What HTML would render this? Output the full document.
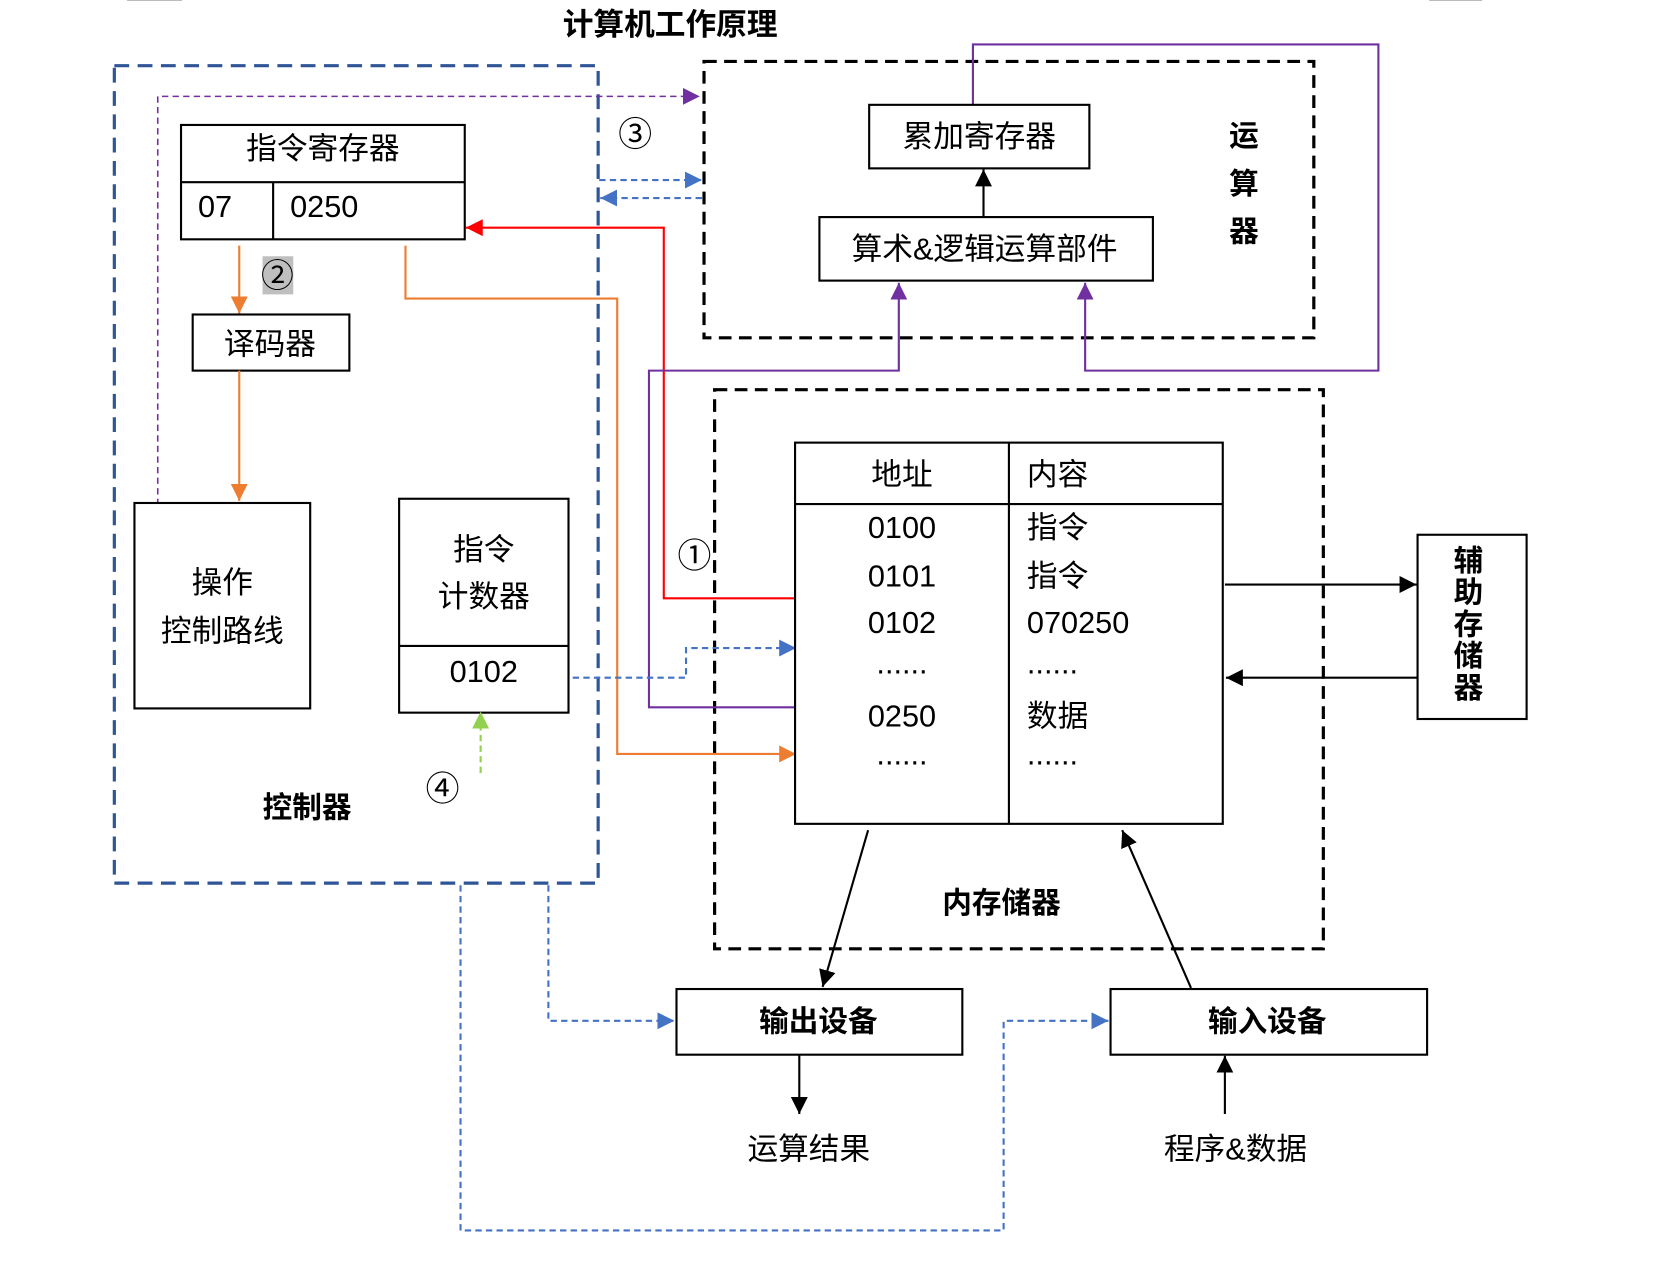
<!DOCTYPE html>
<html><head><meta charset="utf-8"><style>
html,body{margin:0;padding:0;background:#fff;}
svg{display:block;}
text{font-family:"Liberation Sans","Noto Sans CJK SC",sans-serif;fill:#000;}
.b{font-weight:bold;}
</style></head><body>
<svg width="1660" height="1276" viewBox="0 0 1568 1205" preserveAspectRatio="none" xmlns="http://www.w3.org/2000/svg">
<defs>
<marker id="aO" markerWidth="20" markerHeight="20" refX="16" refY="8" orient="auto" markerUnits="userSpaceOnUse"><path d="M0,0 L16,8 L0,16z" fill="#ED7D31"/></marker>
<marker id="aR" markerWidth="20" markerHeight="20" refX="16" refY="8" orient="auto" markerUnits="userSpaceOnUse"><path d="M0,0 L16,8 L0,16z" fill="#FF0000"/></marker>
<marker id="aP" markerWidth="20" markerHeight="20" refX="16" refY="8" orient="auto" markerUnits="userSpaceOnUse"><path d="M0,0 L16,8 L0,16z" fill="#7030A0"/></marker>
<marker id="aB" markerWidth="20" markerHeight="20" refX="16" refY="8" orient="auto" markerUnits="userSpaceOnUse"><path d="M0,0 L16,8 L0,16z" fill="#4472C4"/></marker>
<marker id="aG" markerWidth="20" markerHeight="20" refX="16" refY="8" orient="auto" markerUnits="userSpaceOnUse"><path d="M0,0 L16,8 L0,16z" fill="#92D050"/></marker>
<marker id="aBk" markerWidth="20" markerHeight="20" refX="16" refY="8" orient="auto" markerUnits="userSpaceOnUse"><path d="M0,0 L16,8 L0,16z" fill="#000"/></marker>
</defs>
<line x1="120" y1="0.5" x2="172" y2="0.5" stroke="#bbb" stroke-width="1"/>
<line x1="1350" y1="0.5" x2="1400" y2="0.5" stroke="#bbb" stroke-width="1"/>
<text x="633" y="33" font-size="29" text-anchor="middle" class="b">计算机工作原理</text>

<rect x="108" y="62" width="457" height="772" fill="none" stroke="#2F5597" stroke-width="3" stroke-dasharray="14 8"/>
<rect x="665" y="58" width="576" height="261" fill="none" stroke="#000" stroke-width="3" stroke-dasharray="12 7"/>
<rect x="675" y="368" width="575" height="528" fill="none" stroke="#000" stroke-width="3" stroke-dasharray="12 7"/>

<polyline points="149,477 149,91 661,91" fill="none" stroke="#7030A0" stroke-width="1.5" stroke-dasharray="6 4" marker-end="url(#aP)"/>
<line x1="566" y1="170" x2="663" y2="170" stroke="#4472C4" stroke-width="2" stroke-dasharray="6 4" marker-end="url(#aB)"/>
<line x1="663" y1="187" x2="567" y2="187" stroke="#4472C4" stroke-width="2" stroke-dasharray="6 4" marker-end="url(#aB)"/>
<text x="600" y="138" font-size="32" text-anchor="middle">③</text>

<rect x="171" y="118" width="268" height="108" fill="#fff" stroke="#000" stroke-width="2"/>
<line x1="171" y1="172" x2="439" y2="172" stroke="#000" stroke-width="2"/>
<line x1="258" y1="172" x2="258" y2="226" stroke="#000" stroke-width="2"/>
<text x="305" y="150" font-size="29" text-anchor="middle">指令寄存器</text>
<text x="187" y="205" font-size="29">07</text>
<text x="274" y="205" font-size="29">0250</text>

<line x1="226" y1="232" x2="226" y2="296" stroke="#ED7D31" stroke-width="2" marker-end="url(#aO)"/>
<rect x="248" y="242" width="29" height="36" fill="#bfbfbf"/>
<text x="262" y="271" font-size="31" text-anchor="middle">②</text>
<rect x="182" y="297" width="148" height="53" fill="#fff" stroke="#000" stroke-width="2"/>
<text x="255" y="335" font-size="29" text-anchor="middle">译码器</text>
<line x1="226" y1="350" x2="226" y2="473" stroke="#ED7D31" stroke-width="2" marker-end="url(#aO)"/>

<rect x="127" y="475" width="166" height="194" fill="#fff" stroke="#000" stroke-width="2"/>
<text x="210" y="560" font-size="29" text-anchor="middle">操作</text>
<text x="210" y="606" font-size="29" text-anchor="middle">控制路线</text>

<rect x="377" y="471" width="160" height="202" fill="#fff" stroke="#000" stroke-width="2"/>
<line x1="377" y1="610" x2="537" y2="610" stroke="#000" stroke-width="2"/>
<text x="457" y="529" font-size="29" text-anchor="middle">指令</text>
<text x="457" y="573" font-size="29" text-anchor="middle">计数器</text>
<text x="457" y="644" font-size="29" text-anchor="middle">0102</text>

<line x1="454" y1="730" x2="454" y2="672" stroke="#92D050" stroke-width="2" stroke-dasharray="6 4" marker-end="url(#aG)"/>
<text x="418" y="756" font-size="32" text-anchor="middle">④</text>
<text x="290" y="772" font-size="28" text-anchor="middle" class="b">控制器</text>

<polyline points="383,232 383,282 583,282 583,712 752,712" fill="none" stroke="#ED7D31" stroke-width="2" marker-end="url(#aO)"/>
<polyline points="752,565 627,565 627,215 440,215" fill="none" stroke="#FF0000" stroke-width="2" marker-end="url(#aR)"/>
<text x="656" y="536" font-size="32" text-anchor="middle">①</text>
<polyline points="752,668 613,668 613,350 849,350 849,267" fill="none" stroke="#7030A0" stroke-width="2" marker-end="url(#aP)"/>
<polyline points="919,99 919,42 1302,42 1302,350 1025,350 1025,267" fill="none" stroke="#7030A0" stroke-width="2" marker-end="url(#aP)"/>
<polyline points="541,640 648,640 648,612 752,612" fill="none" stroke="#4472C4" stroke-width="2" stroke-dasharray="6 4" marker-end="url(#aB)"/>

<rect x="821" y="99" width="208" height="60" fill="#fff" stroke="#000" stroke-width="2"/>
<text x="925" y="139" font-size="29" text-anchor="middle">累加寄存器</text>
<rect x="774" y="205" width="315" height="60" fill="#fff" stroke="#000" stroke-width="2"/>
<text x="930" y="245" font-size="29" text-anchor="middle">算术&amp;逻辑运算部件</text>
<line x1="929" y1="205" x2="929" y2="160" stroke="#000" stroke-width="2" marker-end="url(#aBk)"/>
<text x="1175" y="138" font-size="28" text-anchor="middle" class="b">运</text>
<text x="1175" y="183" font-size="28" text-anchor="middle" class="b">算</text>
<text x="1175" y="228" font-size="28" text-anchor="middle" class="b">器</text>

<rect x="751" y="418" width="404" height="360" fill="#fff" stroke="#000" stroke-width="2"/>
<line x1="953" y1="418" x2="953" y2="778" stroke="#000" stroke-width="2"/>
<line x1="751" y1="476" x2="1155" y2="476" stroke="#000" stroke-width="2"/>
<g font-size="29">
<text x="852" y="458" text-anchor="middle">地址</text>
<text x="970" y="458">内容</text>
<text x="852" y="508" text-anchor="middle">0100</text>
<text x="852" y="554" text-anchor="middle">0101</text>
<text x="852" y="598" text-anchor="middle">0102</text>
<text x="852" y="636" text-anchor="middle">......</text>
<text x="852" y="686" text-anchor="middle">0250</text>
<text x="852" y="722" text-anchor="middle">......</text>
<text x="970" y="508">指令</text>
<text x="970" y="554">指令</text>
<text x="970" y="598">070250</text>
<text x="970" y="636">......</text>
<text x="970" y="686">数据</text>
<text x="970" y="722">......</text>
</g>
<text x="946" y="862" font-size="28" text-anchor="middle" class="b">内存储器</text>

<line x1="1157" y1="552" x2="1338" y2="552" stroke="#000" stroke-width="2" marker-end="url(#aBk)"/>
<line x1="1338" y1="640" x2="1158" y2="640" stroke="#000" stroke-width="2" marker-end="url(#aBk)"/>
<rect x="1339" y="505" width="103" height="174" fill="#fff" stroke="#000" stroke-width="2"/>
<g font-size="28" text-anchor="middle">
<text x="1387" y="539" class="b">辅</text>
<text x="1387" y="569" class="b">助</text>
<text x="1387" y="599" class="b">存</text>
<text x="1387" y="629" class="b">储</text>
<text x="1387" y="659" class="b">器</text>
</g>

<line x1="820" y1="784" x2="777" y2="932" stroke="#000" stroke-width="2" marker-end="url(#aBk)"/>
<line x1="1125" y1="933" x2="1060" y2="784" stroke="#000" stroke-width="2" marker-end="url(#aBk)"/>
<rect x="639" y="934" width="270" height="62" fill="#fff" stroke="#000" stroke-width="2"/>
<text x="773" y="974" font-size="28" text-anchor="middle" class="b">输出设备</text>
<line x1="755" y1="996" x2="755" y2="1052" stroke="#000" stroke-width="2" marker-end="url(#aBk)"/>
<text x="764" y="1095" font-size="29" text-anchor="middle">运算结果</text>
<rect x="1049" y="934" width="299" height="62" fill="#fff" stroke="#000" stroke-width="2"/>
<text x="1197" y="974" font-size="28" text-anchor="middle" class="b">输入设备</text>
<line x1="1157" y1="1052" x2="1157" y2="997" stroke="#000" stroke-width="2" marker-end="url(#aBk)"/>
<text x="1167" y="1095" font-size="29" text-anchor="middle">程序&amp;数据</text>

<polyline points="518,836 518,964 637,964" fill="none" stroke="#4472C4" stroke-width="2" stroke-dasharray="6 4" marker-end="url(#aB)"/>
<polyline points="435,836 435,1162 948,1162 948,964 1047,964" fill="none" stroke="#4472C4" stroke-width="2" stroke-dasharray="6 4" marker-end="url(#aB)"/>
</svg>
</body></html>
